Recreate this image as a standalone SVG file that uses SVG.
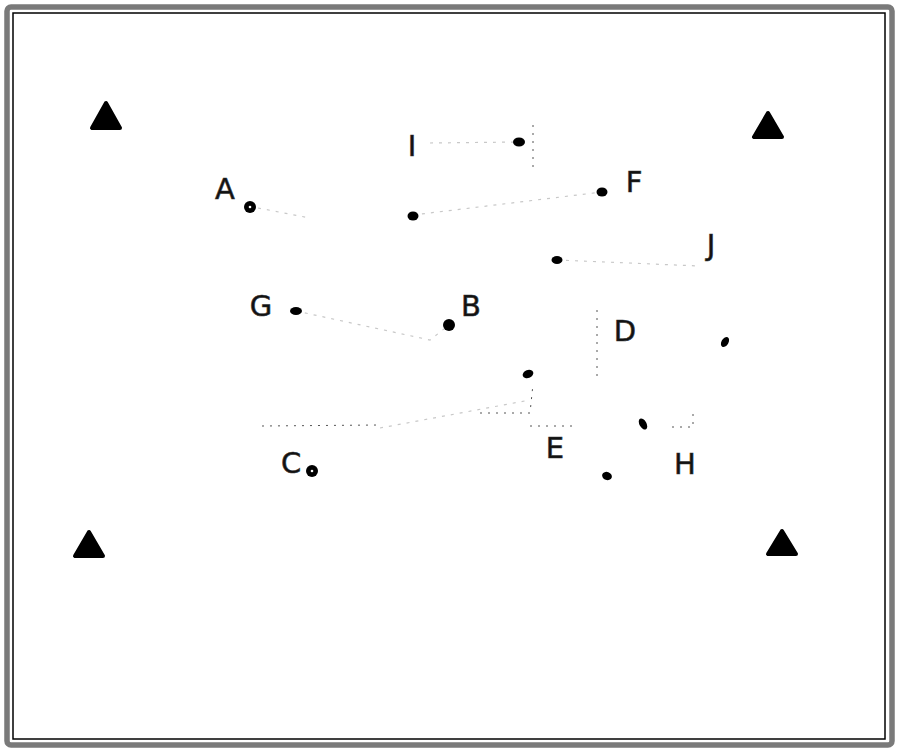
<svg xmlns="http://www.w3.org/2000/svg" width="900" height="752" viewBox="0 0 900 752">
<style>
.lbl{font-family:"DejaVu Sans","Liberation Sans",sans-serif;font-size:29px;fill:#111;stroke:#333;stroke-width:0.6;text-anchor:middle}
.dot{fill:#000}
.hole{fill:#fff}
.tri{fill:#000;stroke:#000;stroke-width:4;stroke-linejoin:round}
.con{fill:none;stroke:#c8c8c8;stroke-width:1.2;stroke-dasharray:3 6}
.con2{fill:none;stroke:#555;stroke-width:1;stroke-dasharray:2 6}
</style>
<rect width="900" height="752" fill="#fff"/>
<rect x="7" y="7" width="885" height="738" rx="4" fill="none" stroke="#7a7a7a" stroke-width="5.5"/>
<rect x="13" y="13" width="872" height="726" fill="none" stroke="#000" stroke-width="1.5"/>
<g id="connectors">
<path class="con" d="M258,208 L310,218"/>
<path class="con" d="M430,143 L519,142"/>
<path class="con2" d="M533,125 L533,172"/>
<path class="con" d="M413,215 L602,192"/>
<path class="con" d="M557,260 L700,266"/>
<path class="con" d="M296,311 L430,340 L449,325"/>
<path class="con2" d="M597,310 L597,380"/>
<path class="con2" d="M262,426 L380,425"/>
<path class="con" d="M380,428 L530,400"/>
<path class="con2" d="M480,413 L530,413 L533,384"/>
<path class="con2" d="M530,426 L575,426"/>
<path class="con2" d="M672,427 L693,427 L693,408"/>
</g>
<g id="tri-tl"><polygon class="tri" points="106,103 92,128 120,128"/></g>
<g id="tri-tr"><polygon class="tri" points="768,113 754,137 782,137"/></g>
<g id="tri-bl"><polygon class="tri" points="89,532 75,556 103,556"/></g>
<g id="tri-br"><polygon class="tri" points="782,531 768,554 796,554"/></g>
<g id="node-A"><text class="lbl" x="225" y="199">A</text><circle class="dot" cx="250" cy="207" r="6"/><circle class="hole" cx="250" cy="207" r="1.3"/></g>
<g id="node-I"><text class="lbl" x="412" y="156">I</text><ellipse class="dot" cx="519" cy="142" rx="6" ry="4.5"/></g>
<g id="node-p1"><ellipse class="dot" cx="413" cy="216" rx="5.5" ry="4.5"/></g>
<g id="node-F"><text class="lbl" x="634" y="192">F</text><ellipse class="dot" cx="602" cy="192" rx="5.5" ry="4.5"/></g>
<g id="node-J"><text class="lbl" x="711" y="255">J</text><ellipse class="dot" cx="557" cy="260" rx="5.5" ry="4"/></g>
<g id="node-G"><text class="lbl" x="261" y="316">G</text><ellipse class="dot" cx="296" cy="311" rx="6" ry="4"/></g>
<g id="node-B"><text class="lbl" x="471" y="316">B</text><circle class="dot" cx="449" cy="325" r="6"/></g>
<g id="node-D"><text class="lbl" x="625" y="341">D</text><ellipse class="dot" cx="725" cy="342" rx="3.5" ry="5.5" transform="rotate(30 725 342)"/></g>
<g id="node-p2"><ellipse class="dot" cx="528" cy="374" rx="5.5" ry="4" transform="rotate(-20 528 374)"/></g>
<g id="node-p3"><ellipse class="dot" cx="643" cy="424" rx="3.5" ry="6" transform="rotate(-30 643 424)"/></g>
<g id="node-E"><text class="lbl" x="555" y="458">E</text><ellipse class="dot" cx="607" cy="476" rx="5" ry="4" transform="rotate(20 607 476)"/></g>
<g id="node-H"><text class="lbl" x="685" y="474">H</text></g>
<g id="node-C"><text class="lbl" x="291" y="473">C</text><circle class="dot" cx="312" cy="471" r="6"/><circle class="hole" cx="312" cy="471" r="1.3"/></g>
</svg>
